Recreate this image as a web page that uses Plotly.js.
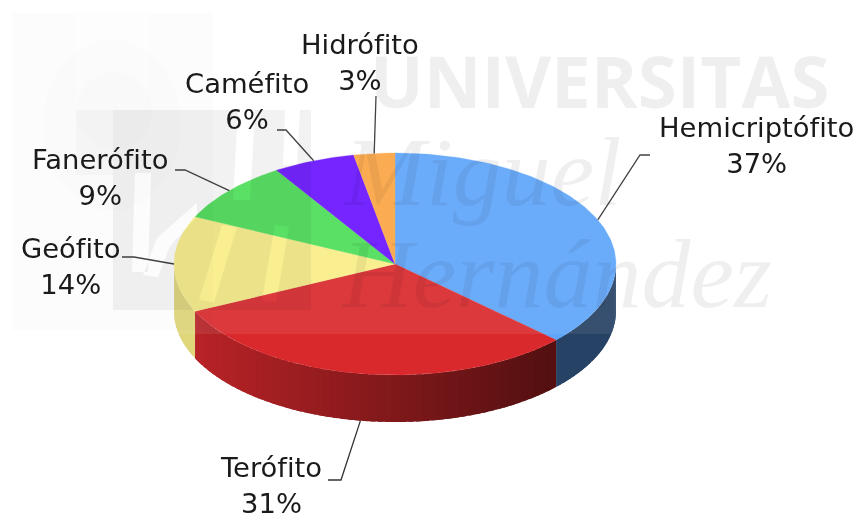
<!DOCTYPE html>
<html lang="es">
<head>
<meta charset="utf-8">
<script src="https://cdn.plot.ly/plotly-3.0.1.min.js"></script>
<style>html,body{margin:0;padding:0;background:#fff}#chart{width:857px;height:513px;filter:blur(0.45px)}</style>
</head>
<body>
<div id="chart"></div>
<script>
// Data
const categories = ["Hemicriptófito", "Terófito", "Geófito", "Fanerófito", "Caméfito", "Hidrófito"];
const values = [37, 31, 14, 9, 6, 3];

// Styling and layout (kept apart from the data)
const topColors = ["#5fa5fa", "#d9292d", "#f9ee88", "#4cde58", "#6a13ff", "#fba545"];
const PIE = {cx: 395, cy: 264, rx: 221, ry: 111, depth: 47};
const labelCenters = [[756, 145], [271, 485], [71, 266], [100, 177], [247, 101], [360, 62]];
const leaderElbows = [
  [[640, 155], [650, 155]],
  [[341, 480], [328, 480]],
  [[134, 257], [122, 257]],
  [[185, 170], [175, 170]],
  [[286, 130], [277, 130]],
  [[376, 96]]
];

const total = values.reduce((a, b) => a + b, 0);
const ell = (deg, dz) => {
  const r = deg * Math.PI / 180;
  return [PIE.cx + PIE.rx * Math.sin(r), PIE.cy - PIE.ry * Math.cos(r) + (dz || 0)];
};
const hexRgb = h => [1, 3, 5].map(i => parseInt(h.substr(i, 2), 16));
const shade = (hex, f) => "rgb(" + hexRgb(hex).map(c => Math.round(c * f)).join(",") + ")";
const sideFactor = x => {
  const xL = 195, xR = 553;
  const t = Math.max(0, Math.min(1, (x - xL) / (xR - xL)));
  if (x < xL) return 0.9;
  if (x > xR) return 0.4;
  return 0.85 - 0.47 * t;
};

const traces = [];
let acc = 0;
const spans = values.map(v => { const s = [acc, acc + v / total * 360]; acc = s[1]; return s; });

// Side wall: overlapping strips so that no seams show
spans.forEach((s, i) => {
  const a0 = Math.max(s[0], 90), a1 = Math.min(s[1], 270);
  if (a1 <= a0) return;
  const n = Math.max(1, Math.ceil((a1 - a0) / 2));
  for (let k = 0; k < n; k++) {
    const p = a0 + (a1 - a0) * k / n;
    const q = Math.min(a1, a0 + (a1 - a0) * (k + 1) / n + 1.5);
    const xs = [], ys = [];
    const steps = 4;
    for (let j = 0; j <= steps; j++) { const e = ell(p + (q - p) * j / steps); xs.push(e[0]); ys.push(e[1]); }
    for (let j = steps; j >= 0; j--) { const e = ell(p + (q - p) * j / steps, PIE.depth); xs.push(e[0]); ys.push(e[1]); }
    const col = shade(topColors[i], sideFactor(ell(a0 + (a1 - a0) * (k + 0.5) / n)[0]));
    traces.push({type: "scatter", mode: "none", x: xs, y: ys, fill: "toself", fillcolor: col,
      hoverinfo: "skip", showlegend: false});
  }
});

// Top face
spans.forEach((s, i) => {
  const xs = [PIE.cx], ys = [PIE.cy];
  const n = Math.ceil(s[1] - s[0]);
  for (let j = 0; j <= n; j++) { const e = ell(s[0] + (s[1] - s[0]) * j / n); xs.push(e[0]); ys.push(e[1]); }
  xs.push(PIE.cx); ys.push(PIE.cy);
  traces.push({type: "scatter", mode: "lines", x: xs, y: ys, fill: "toself", fillcolor: topColors[i],
    line: {color: topColors[i], width: 0.3}, name: categories[i], text: values[i] + "%", hoverinfo: "name+text", showlegend: false});
});

// Leader lines
spans.forEach((s, i) => {
  const mid = (s[0] + s[1]) / 2;
  const front = Math.cos(mid * Math.PI / 180) < -0.3;
  const e = ell(mid, front ? PIE.depth : 0);
  const pts = [e].concat(leaderElbows[i]);
  traces.push({type: "scatter", mode: "lines", x: pts.map(p => p[0]), y: pts.map(p => p[1]),
    line: {color: "#333333", width: 1.3}, hoverinfo: "skip", showlegend: false});
});

// Watermark
const grey = "rgba(0,0,0,0.062)";
const wm = (text, x, y, size, family) => ({
  text, x, y, xref: "x", yref: "y", xanchor: "left", yanchor: "middle", showarrow: false,
  font: {family, size, color: grey}
});
const watermarkAnnotations = [
  wm("<b>UNIVERSITAS</b>", 368, 80, 71, "Open Sans"),
  wm("<i>Miguel</i>", 340, 172, 98, "Liberation Serif"),
  wm("<i>Hernández</i>", 338, 274, 98, "Liberation Serif")
];
const rect = (x0, y0, x1, y1, fill) => ({type: "rect", xref: "x", yref: "y", x0, y0, x1, y1,
  fillcolor: fill, line: {width: 0}, layer: "above"});
// Grey logo block with its white strokes cut out (reversed sub-paths)
const logoPath = "M 113 110 L 311 110 L 311 310 L 113 310 Z " +
  "M 238 110 L 233 200 L 250 200 L 255 110 Z " +
  "M 285 110 L 283 165 L 297 165 L 300 110 Z " +
  "M 197 203 L 157 238 L 143 275 L 158 277 L 170 246 L 197 217 Z " +
  "M 135 173 L 132 272 L 148 272 L 151 173 Z " +
  "M 222 225 L 199 300 L 214 302 L 237 227 Z " +
  "M 275 225 L 262 300 L 276 302 L 289 227 Z";
const shapes = [
  rect(12, 13, 770, 334, "rgba(255,255,255,0.08)"),
  rect(12, 13, 213, 330, "rgba(0,0,0,0.012)"),
  rect(76, 13, 148, 110, "rgba(255,255,255,0.3)"),
  {type: "circle", xref: "x", yref: "y", x0: 44, y0: 40, x1: 180, y1: 210, layer: "above",
    fillcolor: "rgba(0,0,0,0.006)", line: {color: "rgba(0,0,0,0.012)", width: 1}},
  {type: "circle", xref: "x", yref: "y", x0: 76, y0: 72, x1: 152, y1: 150, layer: "above",
    fillcolor: "rgba(0,0,0,0.008)", line: {width: 0}},
  rect(76, 110, 113, 175, "rgba(0,0,0,0.02)"),
  {type: "path", xref: "x", yref: "y", path: logoPath, layer: "above",
    fillcolor: "rgba(0,0,0,0.052)", line: {width: 0}}
];

const labelAnnotations = categories.map((c, i) => ({
  text: c + "<br>" + values[i] + "%",
  x: labelCenters[i][0], y: labelCenters[i][1], xref: "x", yref: "y",
  xanchor: "center", yanchor: "middle", align: "center", showarrow: false,
  font: {family: "DejaVu Sans", size: 27.4, color: "#1a1a1a"}
}));

const hidden = r => ({range: r, visible: false, fixedrange: true, showgrid: false, zeroline: false});
Plotly.newPlot("chart", traces, {
  width: 857, height: 513,
  margin: {l: 0, r: 0, t: 0, b: 0, pad: 0},
  paper_bgcolor: "#ffffff", plot_bgcolor: "#ffffff",
  xaxis: hidden([0, 857]), yaxis: hidden([513, 0]),
  showlegend: false, hovermode: "closest",
  shapes, annotations: watermarkAnnotations.concat(labelAnnotations)
}, {displayModeBar: false, responsive: false});
</script>
</body>
</html>
